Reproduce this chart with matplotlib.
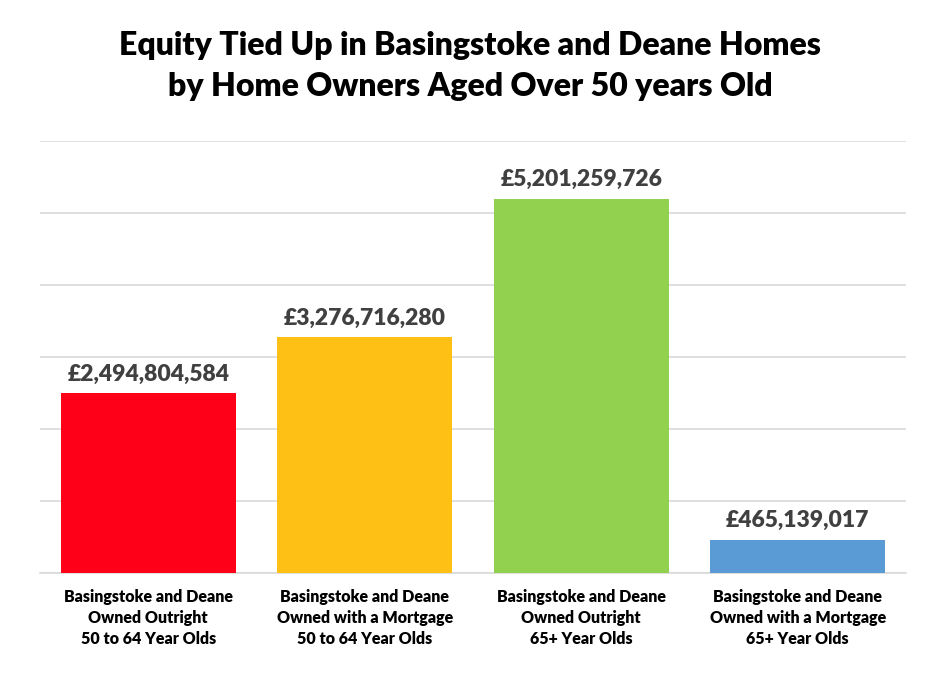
import matplotlib
matplotlib.use("Agg")
import matplotlib.pyplot as plt

categories = [
    "Basingstoke and Deane\nOwned Outright\n50 to 64 Year Olds",
    "Basingstoke and Deane\nOwned with a Mortgage\n50 to 64 Year Olds",
    "Basingstoke and Deane\nOwned Outright\n65+ Year Olds",
    "Basingstoke and Deane\nOwned with a Mortgage\n65+ Year Olds",
]
values = [2494804584, 3276716280, 5201259726, 465139017]
colors = ["#FF0019", "#FFC015", "#92D050", "#5B9BD5"]

plt.rcParams["font.family"] = ["Lato", "DejaVu Sans"]

fig = plt.figure(figsize=(9.4, 6.81), dpi=100)
ax = fig.add_axes([40 / 940, 1 - 573 / 681, 866 / 940, 432 / 681])

x = range(len(values))
ax.bar(x, values, width=0.81, color=colors, zorder=3)
for i, v in enumerate(values):
    ax.text(i, v + 0.12e9, f"£{v:,}", ha="center", va="bottom",
            fontsize=16.5, fontweight="heavy", color="#404040")

ax.set_xlim(-0.5, len(values) - 0.5)
ax.set_ylim(0, 6e9)
ax.set_yticks([i * 1e9 for i in range(7)])
ax.yaxis.grid(True, color="#D9D9D9", linewidth=1.2, zorder=0)
ax.tick_params(axis="y", left=False, labelleft=False)
ax.tick_params(axis="x", bottom=False, pad=8)
ax.set_xticks(list(x))
ax.set_xticklabels(categories, fontsize=11.5, fontweight="heavy", linespacing=1.4)
for s in ["top", "right", "left"]:
    ax.spines[s].set_visible(False)
ax.spines["bottom"].set_color("#D9D9D9")
ax.spines["bottom"].set_linewidth(1.2)

fig.text(0.5, 1 - 66 / 681, "Equity Tied Up in Basingstoke and Deane Homes\nby Home Owners Aged Over 50 years Old",
         ha="center", va="center", fontsize=23, fontweight="heavy", linespacing=1.5)

fig.savefig("out.png", dpi=100)
